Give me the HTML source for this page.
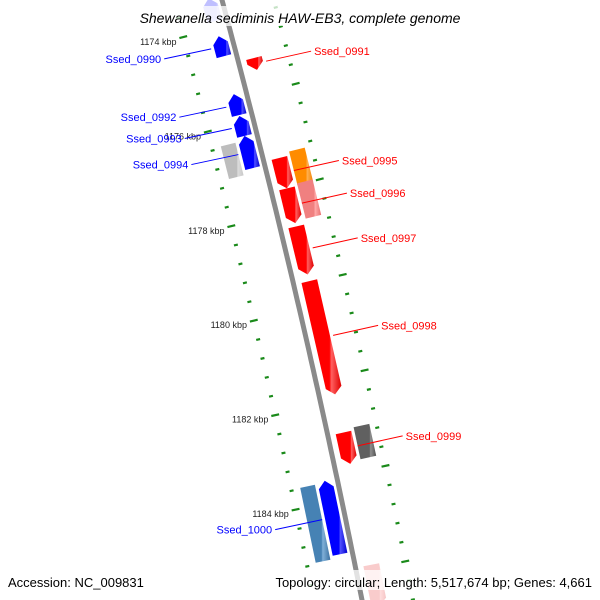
<!DOCTYPE html>
<html><head><meta charset="utf-8">
<style>
html,body{margin:0;padding:0;background:#fff;}
svg{display:block;font-family:"Liberation Sans",sans-serif;}
</style></head>
<body>
<svg id="map" width="600" height="600" viewBox="0 0 600 600" xmlns="http://www.w3.org/2000/svg">
<defs>
<linearGradient id="gRed" x1="0" x2="1" y1="0" y2="0"><stop offset="0" stop-color="#ff0000"/><stop offset="0.7" stop-color="#ff0000"/><stop offset="0.75" stop-color="#ff6060"/><stop offset="1" stop-color="#e00000"/></linearGradient>
<linearGradient id="gBlue" x1="0" x2="1" y1="0" y2="0"><stop offset="0" stop-color="#0000ff"/><stop offset="0.7" stop-color="#0000ff"/><stop offset="0.75" stop-color="#5050ff"/><stop offset="1" stop-color="#0000d0"/></linearGradient>
<linearGradient id="gGrey" x1="0" x2="1" y1="0" y2="0"><stop offset="0" stop-color="#bdbdbd"/><stop offset="0.7" stop-color="#bdbdbd"/><stop offset="0.75" stop-color="#dcdcdc"/><stop offset="1" stop-color="#c8c8c8"/></linearGradient>
<linearGradient id="gDark" x1="0" x2="1" y1="0" y2="0"><stop offset="0" stop-color="#606060"/><stop offset="0.7" stop-color="#606060"/><stop offset="0.75" stop-color="#909090"/><stop offset="1" stop-color="#505050"/></linearGradient>
<linearGradient id="gOrange" x1="0" x2="1" y1="0" y2="0"><stop offset="0" stop-color="#ff8c00"/><stop offset="0.7" stop-color="#ff8c00"/><stop offset="0.75" stop-color="#ffb050"/><stop offset="1" stop-color="#f08000"/></linearGradient>
<linearGradient id="gPink" x1="0" x2="1" y1="0" y2="0"><stop offset="0" stop-color="#f08080"/><stop offset="0.7" stop-color="#f08080"/><stop offset="0.75" stop-color="#ffaaaa"/><stop offset="1" stop-color="#e87070"/></linearGradient>
<linearGradient id="gSteel" x1="0" x2="1" y1="0" y2="0"><stop offset="0" stop-color="#4682b4"/><stop offset="0.7" stop-color="#4682b4"/><stop offset="0.75" stop-color="#80b0d8"/><stop offset="1" stop-color="#3a70a0"/></linearGradient>
</defs>
<g id="ticks"></g>
<g id="backbone"></g>
<g id="features"></g>
<g id="labels"></g>
<rect x="120" y="6" width="356" height="20" fill="#fff" opacity="0.75"/>
<text x="300" y="23" text-anchor="middle" font-size="14" font-style="italic" fill="#000">Shewanella sediminis HAW-EB3, complete genome</text>
<rect x="0" y="570" width="600" height="20" fill="#fff" opacity="0.75"/>
<text x="8" y="587" font-size="13" fill="#000">Accession: NC_009831</text>
<text x="592" y="587" text-anchor="end" font-size="13" fill="#000">Topology: circular; Length: 5,517,674 bp; Genes: 4,661</text>
</svg>
<script>
// ---- data ----
const featNames  = ["top-partial","Ssed_0990","Ssed_0991","Ssed_0992","Ssed_0993","Ssed_0994","Ssed_0994-cog","Ssed_0995","Ssed_0995-cog","Ssed_0996","Ssed_0996-cog","Ssed_0997","Ssed_0998","Ssed_0999","Ssed_0999-cog","Ssed_1000","Ssed_1000-cog","bottom-partial"];
const featStart  = [1173.37,1174.17,1174.78,1175.39,1175.85,1176.27,1176.36,1176.88,1176.80,1177.52,1177.47,1178.32,1179.47,1182.65,1182.59,1183.54,1183.58,1185.43];
const featEnd    = [1173.85,1174.59,1175.03,1175.83,1176.27,1176.95,1177.05,1177.52,1177.52,1178.25,1178.21,1179.33,1181.85,1183.31,1183.26,1185.09,1185.16,1186.30];
const featStrand = [-1,-1,1,-1,-1,-1,0,1,0,1,0,1,1,1,0,-1,0,1];
const featLane   = ["L1","L1","R1","L1","L1","L1","L2","R1","R2","R1","R2","R1","R1","R1","R2","L1","L2","R1"];
const featFill   = ["gBlue","gBlue","gRed","gBlue","gBlue","gBlue","gGrey","gRed","gOrange","gRed","gPink","gRed","gRed","gRed","gDark","gBlue","gSteel","gPink"];
const featAlpha  = [0.25,1,1,1,1,1,1,1,1,1,1,1,1,1,1,1,1,0.4];
const axisLabels = [1174,1176,1178,1180,1182,1184];
const leftMinorStart = 1173.6, rightMinorStart = 1173.9, minorStep = 0.4;
const labelNames = ["Ssed_0990","Ssed_0992","Ssed_0993","Ssed_0994","Ssed_1000","Ssed_0991","Ssed_0995","Ssed_0996","Ssed_0997","Ssed_0998","Ssed_0999"];
const labelSide  = ["L","L","L","L","L","R","R","R","R","R","R"];

// ---- geometry ----
const NS="http://www.w3.org/2000/svg";
const yOf = k => 25 + (k-1174)*47.5;
const bx = y => 222 + 0.2683*y - 5.83e-5*y*y;
const slope = y => 0.2683 - 2*5.83e-5*y;
function pt(k,d){const y=yOf(k),s=slope(y),n=Math.sqrt(1+s*s);return [bx(y)+d/n, y - d*s/n];}
const lanes={L1:[-20,-5],L2:[-38,-23],R1:[8,24],R2:[27,43]};
function mk(tag,attrs,parent){const e=document.createElementNS(NS,tag);for(const a in attrs)e.setAttribute(a,attrs[a]);parent.appendChild(e);return e;}
const P=a=>a.map(p=>p[0].toFixed(1)+","+p[1].toFixed(1)).join(" ");

// backbone
const bb=document.getElementById("backbone");
let d="";for(let y=-10;y<=610;y+=10){d+=(y===-10?"M":"L")+bx(y).toFixed(1)+","+y;}
const bl=mk("path",{d:d,stroke:"#8a8a8a","stroke-width":5,fill:"none"},bb);



// ticks
const tg=document.getElementById("ticks");
function tick(k,d0,len,name){const a=pt(k,d0-len/2),b=pt(k,d0+len/2);
 const l=mk("line",{x1:a[0],y1:a[1],x2:b[0],y2:b[1],stroke:"#1a8a1a","stroke-width":2.2},tg);
 
 }
for(let k=leftMinorStart;k<1186.5;k+=minorStep){const major=axisLabels.some(v=>Math.abs(v-k)<0.05);tick(k,-47,major?8:4,'left-tick');}
for(let k=rightMinorStart;k<1186.5;k+=minorStep){const major=Math.abs(((k-1175.5)/2)-Math.round((k-1175.5)/2))<0.05;tick(k,50,major?8:4,'right-tick');}
axisLabels.forEach(v=>{const p=pt(v,-54);
 const t=mk("text",{x:p[0],y:p[1]+6,"text-anchor":"end","font-size":9,fill:"#222"},tg);
 t.textContent=v+" kbp";
 
 });

// features
const fg=document.getElementById("features");
const featMid={};
featNames.forEach((nm,i)=>{
 const ln=lanes[featLane[i]],a=featStart[i],b=featEnd[i],st=featStrand[i];
 const hk=7/47.5;let pts;const mid=(ln[0]+ln[1])/2;
 if(st===0){pts=[pt(a,ln[0]),pt(a,ln[1]),pt(b,ln[1]),pt(b,ln[0])];}
 else if(st===1){pts=[pt(a,ln[0]),pt(a,ln[1]),pt(b-hk,ln[1]),pt(b,mid),pt(b-hk,ln[0])];}
 else{pts=[pt(a,mid),pt(a+hk,ln[1]),pt(b,ln[1]),pt(b,ln[0]),pt(a+hk,ln[0])];}
 const poly=mk("polygon",{points:P(pts),fill:"url(#"+featFill[i]+")","fill-opacity":featAlpha[i]},fg);
 
 
 featMid[nm]=[(a+b)/2, featLane[i][0]==="L"?ln[0]:ln[1]];
});

// labels
const lg=document.getElementById("labels");
labelNames.forEach((nm,i)=>{
 const m=featMid[nm],side=labelSide[i];
 const p0=pt(m[0],side==="L"?m[1]-3:m[1]+3);
 const p1=[p0[0]+(side==="L"?-47:45),p0[1]+(side==="L"?10:-10)];
 const col=side==="L"?"#0000ff":"#ff0000";
 const l=mk("line",{x1:p0[0],y1:p0[1],x2:p1[0],y2:p1[1],stroke:col,"stroke-width":1},lg);
 
 
 const t=mk("text",{x:side==="L"?p1[0]-3:p1[0]+3,y:p1[1]+4,"text-anchor":side==="L"?"end":"start","font-size":11,fill:col},lg);
 t.textContent=nm;
 
 
});
</script>
</body></html>
